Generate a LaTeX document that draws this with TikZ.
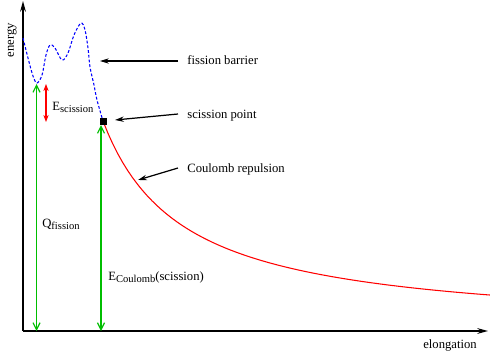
\documentclass[tikz,border=0pt]{standalone}
\usepackage{fontspec}
\setmainfont{Liberation Serif}
\usetikzlibrary{arrows.meta}

\definecolor{fgreen}{RGB}{0,190,0}
\newcommand{\lowsub}[1]{\raisebox{-0.45ex}{\fontsize{6}{7}\selectfont #1}}

\tikzset{
  lbl/.style={inner sep=0pt,anchor=base west,font=\fontsize{7.2}{8.6}\selectfont},
  pointer/.style={line width=0.7pt,-{Stealth[length=5pt,width=3pt]}},
  vgreen/.style={fgreen,line width=0.65pt,{Straight Barb[length=4pt,width=4pt]}-{Straight Barb[length=4pt,width=4pt]}},
  vred/.style={red,line width=0.65pt,{Stealth[length=4pt,width=3pt]}-{Stealth[length=4pt,width=3pt]}}
}

\begin{document}
\begin{tikzpicture}
\useasboundingbox (-0.46,-0.44) rectangle (9.34,6.62);

% Axes
\coordinate (o) at (0,0);
\coordinate (ytop) at (0,6.6);
\coordinate (xend) at (9.3,0);
\draw[line width=1.1pt,-{Stealth[length=6pt,width=3.2pt]}] (o)--(ytop);
\draw[line width=1.1pt,-{Stealth[length=6pt,width=3.2pt]}] (o)--(xend);

\node[font=\fontsize{7.2}{8.6}\selectfont,rotate=90] (energy) at (-0.22,5.82) {energy};
\node[font=\fontsize{7.2}{8.6}\selectfont] (elong) at (8.54,-0.28) {elongation};


% Barrier (dashed)
\draw[blue,line width=0.6pt,dash pattern=on 1.6pt off 1.1pt]
  plot[smooth,tension=0.55] coordinates {(0,5.86) (0.1,5.46) (0.2,5.1) (0.28,4.96)
  (0.38,5.12) (0.46,5.52) (0.54,5.72) (0.64,5.66) (0.78,5.42) (0.9,5.56)
  (1.02,5.92) (1.16,6.16) (1.24,6.02) (1.3,5.66) (1.34,5.28) (1.42,4.92)
  (1.48,4.62) (1.6,4.2)};

% Coulomb curve
\draw[red,line width=0.6pt,domain=1.6:9.34,samples=80] plot (\x,{6.72/\x});

% Scission point
\node[fill=black,inner sep=0pt,minimum size=0.14cm] (sp) at (1.6,4.2) {};


% Energy arrows
\coordinate (qtop) at (0.27,4.94);
\coordinate (qbot) at (0.27,0);
\coordinate (stop) at (0.46,4.94);
\coordinate (sbot) at (0.46,4.18);
\coordinate (ctop) at (1.56,4.12);
\coordinate (cbot) at (1.56,0);

\draw[vgreen] (qtop)--(qbot);
\draw[vred] (stop)--(sbot);
\draw[vgreen] (ctop)--(cbot);

\node[lbl] (escis) at (0.58,4.42) {E\lowsub{scission}};
\node[lbl] (qfis) at (0.38,2.08) {Q\lowsub{fission}};
\node[lbl] (ecoul) at (1.7,1.02) {E\lowsub{Coulomb}(scission)};


% Labels with pointers
\node[lbl] (barrier) at (3.28,5.34) {fission barrier};
\node[lbl] (spoint) at (3.28,4.26) {scission point};
\node[lbl] (crep) at (3.28,3.18) {Coulomb repulsion};

\coordinate (b0) at (3.1,5.4);
\coordinate (b1) at (1.54,5.4);
\coordinate (s0) at (3.1,4.34);
\coordinate (s1) at (1.84,4.22);
\coordinate (c0) at (3.1,3.26);
\coordinate (c1) at (2.3,3.02);

\draw[pointer] (b0)--(b1);
\draw[pointer] (s0)--(s1);
\draw[pointer] (c0)--(c1);

\end{tikzpicture}
\end{document}
